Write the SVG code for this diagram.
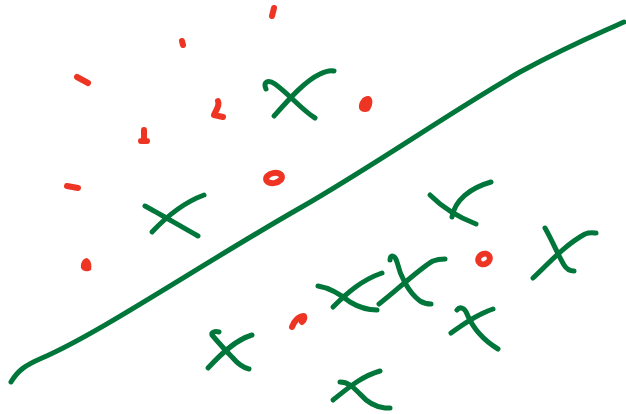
<svg xmlns="http://www.w3.org/2000/svg" width="626" height="414" viewBox="0 0 626 414">
<style>
.g{fill:none;stroke:#00763a;stroke-width:5;stroke-linecap:round;stroke-linejoin:round}
.r{fill:none;stroke:#ee3524;stroke-width:6;stroke-linecap:round;stroke-linejoin:round}
.rf{fill:#ee3524}
</style>
<rect width="626" height="414" fill="#fff"/>
<g id="boundary">
<path class="g" d="M11,382 C18,370 26,365 42,358 C100,333 200,265 300,208 C380,162 450,112 520,72 C570,45 600,33 624,22"/>
</g>
<g id="red-marks">
<path class="r" d="M274,8 L272,16"/>
<path class="r" d="M182,41 L183,45"/>
<path class="r" d="M77,77 L88,83"/>
<path class="r" d="M218,101 C220,106 216,110 214,115 L223,117"/>
<path class="r" d="M144,130 L144,140 M141,141 L147,141"/>
<path class="r" d="M67,186 L78,188"/>
<ellipse class="r" cx="274" cy="178" rx="8" ry="5" transform="rotate(-12 274 178)"/>
<path class="rf" d="M359,108 C358,101 364,95 369,96 C374,98 373,106 369,111 C365,113 360,112 359,108 Z"/>
<path class="rf" d="M81,268 C80,262 84,258 87,258 C91,260 92,265 91,270 C88,272 83,272 81,268 Z"/>
<path class="r" d="M292,327 C294,321 299,316 304,316 C305,318 304,320 302,322"/>
<ellipse class="r" cx="484" cy="259" rx="6" ry="5" transform="rotate(-30 484 259)"/>
</g>
<g id="green-crosses">
<path class="g" d="M266,89 C263,82 268,79 275,84 C290,95 302,110 315,118"/>
<path class="g" d="M274,116 C290,98 305,81 320,74 C326,71 330,70 334,71"/>
<path class="g" d="M145,206 C160,214 180,226 198,236"/>
<path class="g" d="M152,232 C168,215 185,202 204,195"/>
<path class="g" d="M430,195 C440,205 455,216 476,224"/>
<path class="g" d="M452,217 C455,200 470,188 491,182"/>
<path class="g" d="M545,228 C552,240 558,255 564,265 C567,270 570,271 574,271"/>
<path class="g" d="M533,278 C550,262 565,245 585,234 C590,232 594,233 596,233"/>
<path class="g" d="M390,260 C390,254 395,255 397,262 C400,275 408,292 420,301 C425,304 428,304 431,304"/>
<path class="g" d="M379,304 C395,292 420,268 433,261 C438,259 442,259 445,259"/>
<path class="g" d="M318,286 C330,288 340,294 350,302 C360,308 368,310 377,310"/>
<path class="g" d="M333,307 C348,292 362,280 382,273"/>
<path class="g" d="M457,310 C460,306 465,308 467,314 C472,326 480,338 498,349"/>
<path class="g" d="M451,333 C465,323 478,314 493,309"/>
<path class="g" d="M340,382 C348,382 352,386 360,394 C367,402 375,407 385,408 L390,408"/>
<path class="g" d="M333,400 C348,388 362,376 380,371"/>
<path class="g" d="M219,332 C215,331 211,332 212,335 C218,342 225,350 232,357 C238,364 244,368 249,369"/>
<path class="g" d="M208,368 C220,355 235,340 252,335"/>
</g>
</svg>
